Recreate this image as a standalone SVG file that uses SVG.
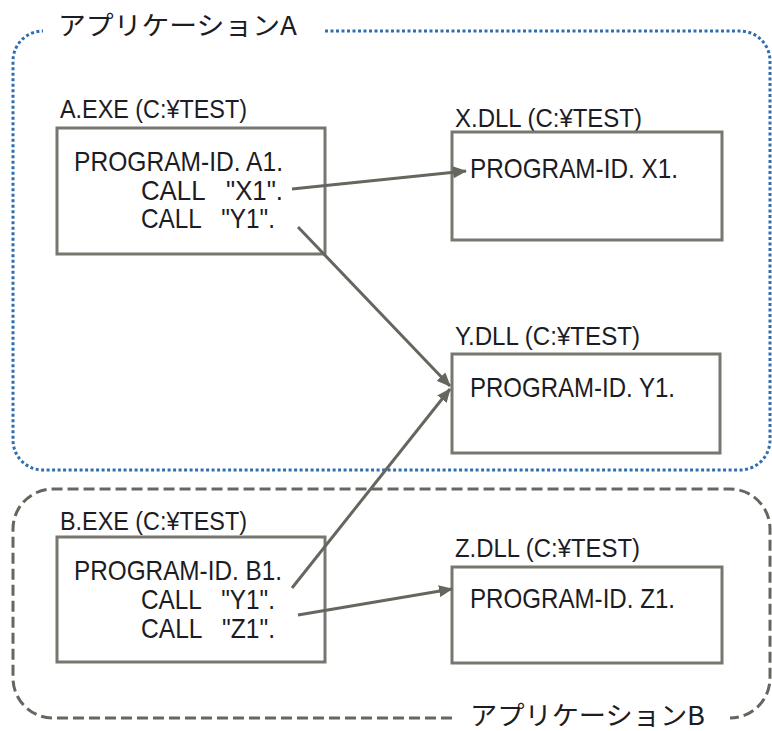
<svg xmlns="http://www.w3.org/2000/svg" width="772" height="731" viewBox="0 0 772 731">
<style>
text{font-family:"Liberation Sans","Noto Sans CJK JP",sans-serif;fill:#1c1c24;}
.ttl{font-size:26px;font-family:"Noto Sans CJK JP","Liberation Sans",sans-serif;}
.lbl{font-size:26px;}
.code{font-size:28px;}
.box{fill:#fff;stroke:#777770;stroke-width:3;}
.conn{fill:none;stroke:#66665f;stroke-width:3;marker-end:url(#arr);}
.grpA{fill:none;stroke:#2f6faf;stroke-width:3;stroke-dasharray:3 2.5;}
.grpB{fill:none;stroke:#66665f;stroke-width:3;stroke-dasharray:11 5;}
</style>
<defs>
<marker id="arr" markerUnits="userSpaceOnUse" markerWidth="14" markerHeight="12" refX="13" refY="6" orient="auto">
<path d="M0,0 L14,6 L0,12 z" fill="#66665f"/>
</marker>
</defs>
<rect width="772" height="731" fill="#fff"/>
<g id="appA">
<path class="grpA" d="M325,31 L740,31 A30,30 0 0 1 770,61 L770,440 A30,30 0 0 1 740,470 L43,470 A30,30 0 0 1 13,440 L13,61 A30,30 0 0 1 43,31"/>
<text class="ttl" x="58" y="35" textLength="239" lengthAdjust="spacingAndGlyphs">アプリケーションA</text>
</g>
<g id="appB">
<path class="grpB" d="M452,718 L53,718 A40,40 0 0 1 13,678 L13,529 A40,40 0 0 1 53,489 L730,489 A40,40 0 0 1 770,529 L770,678 A40,40 0 0 1 730,718"/>
<text class="ttl" x="470" y="725" textLength="235" lengthAdjust="spacingAndGlyphs">アプリケーションB</text>
</g>
<g id="aexe">
<text class="lbl" x="60" y="118" textLength="187" lengthAdjust="spacingAndGlyphs">A.EXE (C:¥TEST)</text>
<rect class="box" x="57" y="128" width="268" height="126"/>
<text class="code" x="74" y="171" textLength="209" lengthAdjust="spacingAndGlyphs">PROGRAM-ID. A1.</text>
<text class="code" x="141" y="200" textLength="142" lengthAdjust="spacingAndGlyphs" xml:space="preserve">CALL   "X1".</text>
<text class="code" x="141" y="228" textLength="134" lengthAdjust="spacingAndGlyphs" xml:space="preserve">CALL   "Y1".</text>
</g>
<g id="xdll">
<text class="lbl" x="455" y="127" textLength="187" lengthAdjust="spacingAndGlyphs">X.DLL (C:¥TEST)</text>
<rect class="box" x="452" y="132" width="270" height="108"/>
<text class="code" x="470" y="178" textLength="208" lengthAdjust="spacingAndGlyphs">PROGRAM-ID. X1.</text>
</g>
<g id="ydll">
<text class="lbl" x="455" y="345" textLength="185" lengthAdjust="spacingAndGlyphs">Y.DLL (C:¥TEST)</text>
<rect class="box" x="452" y="354" width="268" height="99"/>
<text class="code" x="470" y="397" textLength="205" lengthAdjust="spacingAndGlyphs">PROGRAM-ID. Y1.</text>
</g>
<g id="bexe">
<text class="lbl" x="60" y="530" textLength="187" lengthAdjust="spacingAndGlyphs">B.EXE (C:¥TEST)</text>
<rect class="box" x="57" y="537" width="268" height="125"/>
<text class="code" x="74" y="580" textLength="208" lengthAdjust="spacingAndGlyphs">PROGRAM-ID. B1.</text>
<text class="code" x="141" y="609" textLength="134" lengthAdjust="spacingAndGlyphs" xml:space="preserve">CALL   "Y1".</text>
<text class="code" x="141" y="638" textLength="134" lengthAdjust="spacingAndGlyphs" xml:space="preserve">CALL   "Z1".</text>
</g>
<g id="zdll">
<text class="lbl" x="455" y="557" textLength="185" lengthAdjust="spacingAndGlyphs">Z.DLL (C:¥TEST)</text>
<rect class="box" x="452" y="567" width="270" height="96"/>
<text class="code" x="470" y="608" textLength="205" lengthAdjust="spacingAndGlyphs">PROGRAM-ID. Z1.</text>
</g>
<g id="connectors">
<line class="conn" x1="292" y1="189" x2="466" y2="171"/>
<line class="conn" x1="298" y1="227" x2="450" y2="386"/>
<line class="conn" x1="292" y1="588" x2="450" y2="389"/>
<line class="conn" x1="298" y1="615" x2="452" y2="589"/>
</g>
</svg>
